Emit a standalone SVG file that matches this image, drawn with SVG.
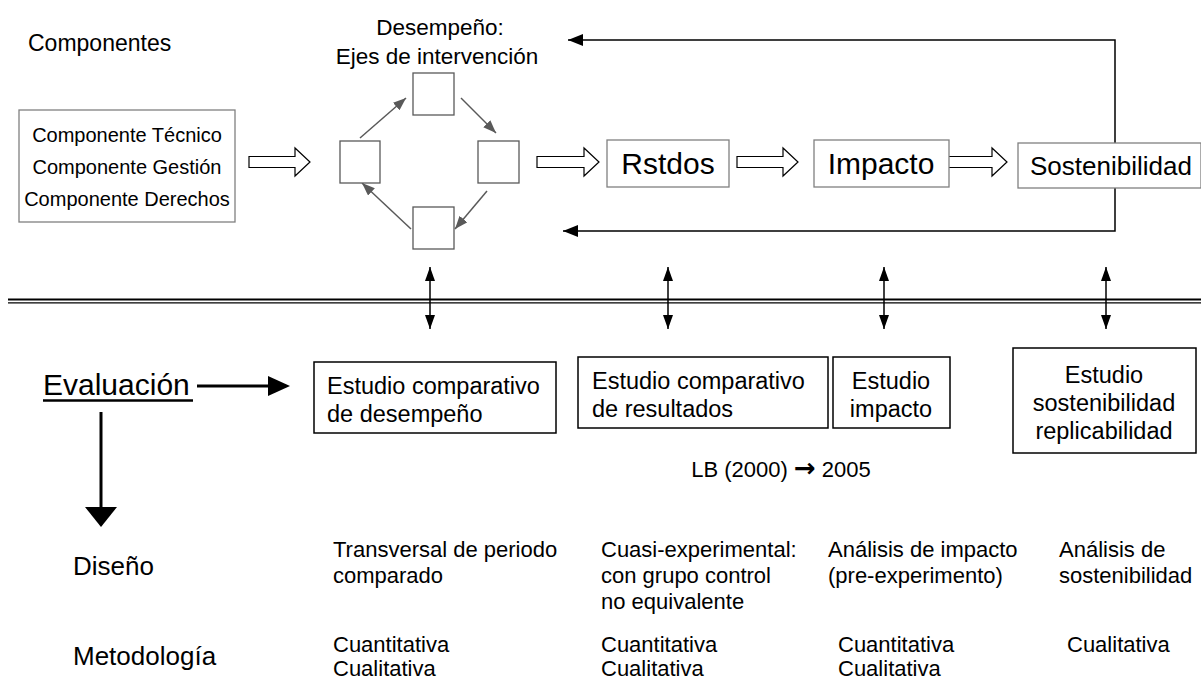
<svg xmlns="http://www.w3.org/2000/svg" width="1201" height="679" viewBox="0 0 1201 679">
<defs>
<style>
text{font-family:"Liberation Sans",Arial,sans-serif;fill:#000}
.gbox{fill:#fff;stroke:#808080;stroke-width:1.3}
.sq{fill:#fff;stroke:#595959;stroke-width:1.3}
.bbox{fill:#fff;stroke:#000;stroke-width:1.5}
.block{fill:#fff;stroke:#000;stroke-width:1.2;stroke-linejoin:miter}
.cyc{stroke:#595959;stroke-width:1.5;fill:none;marker-end:url(#ga)}
.fb{stroke:#000;stroke-width:1.5;fill:none;marker-end:url(#fa)}
.dbl{stroke:#000;stroke-width:1.5;fill:none;marker-start:url(#dh);marker-end:url(#dh)}
.thick{stroke:#000;stroke-width:3;fill:none}
</style>
<marker id="ga" markerUnits="userSpaceOnUse" markerWidth="13" markerHeight="10" refX="13" refY="5" orient="auto"><path d="M0,0 L13,5 L0,10 z" fill="#595959"/></marker>
<marker id="fa" markerUnits="userSpaceOnUse" markerWidth="15" markerHeight="12" refX="15" refY="6" orient="auto"><path d="M0,0 L15,6 L0,12 z" fill="#000"/></marker>
<marker id="dh" markerUnits="userSpaceOnUse" markerWidth="14" markerHeight="10" refX="14" refY="5" orient="auto-start-reverse"><path d="M0,0 L14,5 L0,10 z" fill="#000"/></marker>
</defs>

<g id="connectors">
  <path class="fb" d="M1115,143 V40 H568"/>
  <path class="fb" d="M1115,188 V231 H563"/>
  <line class="cyc" x1="360" y1="138" x2="406" y2="98"/>
  <line class="cyc" x1="461" y1="98" x2="496" y2="133"/>
  <line class="cyc" x1="487" y1="191" x2="455" y2="229"/>
  <line class="cyc" x1="411" y1="229" x2="362" y2="183"/>
  <path class="block" d="M249,156.5 H295 V148 L310,162 L295,176 V167.5 H249 Z"/>
  <path class="block" d="M537,156.5 H584 V148 L599,162 L584,176 V167.5 H537 Z"/>
  <path class="block" d="M737,156.5 H783 V148 L798,162 L783,176 V167.5 H737 Z"/>
  <path class="block" d="M948,156.5 H992 V148 L1007,162 L992,176 V167.5 H948 Z"/>
  <line x1="8" y1="299.5" x2="1201" y2="299.5" stroke="#000" stroke-width="2"/>
  <line x1="8" y1="302.8" x2="1201" y2="302.8" stroke="#000" stroke-width="1.2"/>
  <line class="dbl" x1="430" y1="267" x2="430" y2="329"/>
  <line class="dbl" x1="668" y1="267" x2="668" y2="329"/>
  <line class="dbl" x1="884" y1="267" x2="884" y2="329"/>
  <line class="dbl" x1="1106" y1="267" x2="1106" y2="329"/>
  <line class="thick" x1="197" y1="386" x2="270" y2="386"/>
  <polygon points="268,376 290,386 268,396" fill="#000"/>
  <line class="thick" x1="101" y1="412" x2="101" y2="509"/>
  <polygon points="85,507 117,507 101,527" fill="#000"/>
</g>

<g id="title-componentes"><text x="28" y="51" font-size="23">Componentes</text></g>

<g id="componentes-box">
  <rect class="gbox" x="19" y="110" width="216" height="112"/>
  <text x="127" y="142" font-size="20" text-anchor="middle">Componente Técnico</text>
  <text x="127" y="174" font-size="20" text-anchor="middle">Componente Gestión</text>
  <text x="127" y="206" font-size="20" text-anchor="middle">Componente Derechos</text>
</g>

<g id="desempeno-title">
  <text x="440" y="35" font-size="22.5" text-anchor="middle">Desempeño:</text>
  <text x="437" y="64" font-size="22.5" text-anchor="middle">Ejes de intervención</text>
</g>

<g id="sq-top"><rect class="sq" x="413" y="73" width="41" height="42"/></g>
<g id="sq-left"><rect class="sq" x="340" y="141" width="40" height="42"/></g>
<g id="sq-right"><rect class="sq" x="478" y="141" width="41" height="42"/></g>
<g id="sq-bottom"><rect class="sq" x="413" y="207" width="41" height="42"/></g>

<g id="rstdos">
  <rect class="gbox" x="607" y="140" width="122" height="47"/>
  <text x="668" y="174" font-size="30" text-anchor="middle">Rstdos</text>
</g>
<g id="impacto">
  <rect class="gbox" x="814" y="140" width="135" height="47"/>
  <text x="881" y="174" font-size="30" text-anchor="middle">Impacto</text>
</g>
<g id="sostenibilidad">
  <rect class="gbox" x="1018" y="143" width="183" height="45"/>
  <text x="1030" y="175" font-size="26">Sostenibilidad</text>
</g>

<g id="evaluacion">
  <text x="43" y="395" font-size="30">Evaluación</text>
  <line x1="43" y1="400.5" x2="193" y2="400.5" stroke="#000" stroke-width="2.5"/>
</g>

<g id="estudio-desempeno">
  <rect class="bbox" x="314" y="362" width="242" height="71"/>
  <text x="327" y="394" font-size="23.5">Estudio comparativo</text>
  <text x="327" y="422" font-size="23.5">de desempeño</text>
</g>
<g id="estudio-resultados">
  <rect class="bbox" x="578" y="357" width="250" height="71"/>
  <text x="592" y="389" font-size="23.5">Estudio comparativo</text>
  <text x="592" y="417" font-size="23.5">de resultados</text>
</g>
<g id="estudio-impacto">
  <rect class="bbox" x="833" y="357" width="117" height="71"/>
  <text x="891" y="389" font-size="23.5" text-anchor="middle">Estudio</text>
  <text x="891" y="417" font-size="23.5" text-anchor="middle">impacto</text>
</g>
<g id="estudio-sostenibilidad">
  <rect class="bbox" x="1013" y="348" width="183" height="105"/>
  <text x="1104" y="383" font-size="23.5" text-anchor="middle">Estudio</text>
  <text x="1104" y="411" font-size="23.5" text-anchor="middle">sostenibilidad</text>
  <text x="1104" y="439" font-size="23.5" text-anchor="middle">replicabilidad</text>
</g>

<g id="lb"><text x="781" y="477" font-size="22" text-anchor="middle">LB (2000) <tspan font-family="DejaVu Sans, sans-serif" font-weight="bold" font-size="26">→</tspan> 2005</text></g>

<g id="diseno-label"><text x="73" y="575" font-size="26">Diseño</text></g>
<g id="metodologia-label"><text x="73" y="665" font-size="26">Metodología</text></g>

<g id="diseno-rows">
  <text x="333" y="557" font-size="22">Transversal de periodo</text>
  <text x="333" y="583" font-size="22">comparado</text>
  <text x="601" y="557" font-size="22">Cuasi-experimental:</text>
  <text x="601" y="583" font-size="22">con grupo control</text>
  <text x="601" y="609" font-size="22">no equivalente</text>
  <text x="828" y="557" font-size="22">Análisis de impacto</text>
  <text x="828" y="583" font-size="22">(pre-experimento)</text>
  <text x="1059" y="557" font-size="22">Análisis de</text>
  <text x="1059" y="583" font-size="22">sostenibilidad</text>
</g>

<g id="metodologia-rows">
  <text x="333" y="652" font-size="22">Cuantitativa</text>
  <text x="333" y="676" font-size="22">Cualitativa</text>
  <text x="601" y="652" font-size="22">Cuantitativa</text>
  <text x="601" y="676" font-size="22">Cualitativa</text>
  <text x="838" y="652" font-size="22">Cuantitativa</text>
  <text x="838" y="676" font-size="22">Cualitativa</text>
  <text x="1067" y="652" font-size="22">Cualitativa</text>
</g>
</svg>
